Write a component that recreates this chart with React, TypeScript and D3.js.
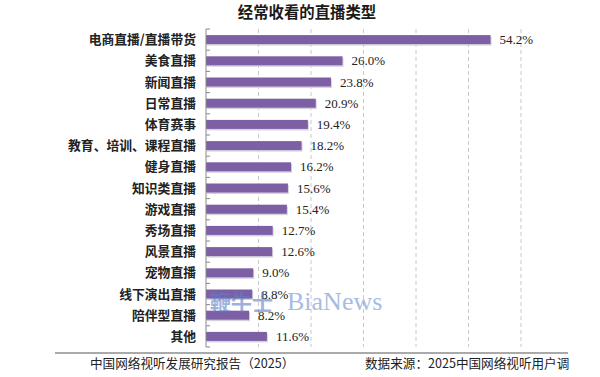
import React from "react";
import * as d3 from "d3";

const categories = [
  "电商直播/直播带货",
  "美食直播",
  "新闻直播",
  "日常直播",
  "体育赛事",
  "教育、培训、课程直播",
  "健身直播",
  "知识类直播",
  "游戏直播",
  "秀场直播",
  "风景直播",
  "宠物直播",
  "线下演出直播",
  "陪伴型直播",
  "其他",
];
const values = [54.2, 26.0, 23.8, 20.9, 19.4, 18.2, 16.2, 15.6, 15.4, 12.7, 12.6, 9.0, 8.8, 8.2, 11.6];
const gridTicks = [10, 20, 30, 40, 50, 60];
const title = "经常收看的直播类型";
const footerLeft = "中国网络视听发展研究报告（2025）";
const footerRight = "数据来源：2025中国网络视听用户调";

const W = 600;
const H = 377;
const sans = "'Noto Sans CJK SC', 'Noto Sans', sans-serif";
const serif = "'Liberation Serif', 'DejaVu Serif', serif";

export default function App() {
  const x = d3.scaleLinear().domain([0, 60]).range([206, 521]);
  const y = d3.scaleBand<string>().domain(categories).range([29, 347]).padding(0);
  const barH = 9;
  const step = y.step();
  const top = y.range()[0];
  const bottom = y.range()[1];

  return (
    <svg
      width={W}
      height={H}
      style={{ position: "absolute", left: 0, top: 0, background: "#fff" }}
    >
      <rect x={0} y={0} width={W} height={H} fill="#fff" />
      <text
        x={307}
        y={18}
        textAnchor="middle"
        fontFamily={sans}
        fontWeight={700}
        fontSize={15.4}
        fill="#1a1a1a"
      >
        {title}
      </text>

      {gridTicks.map((t) => (
        <line
          key={t}
          x1={x(t)}
          x2={x(t)}
          y1={top}
          y2={bottom}
          stroke="#c8c8c8"
          strokeWidth={1}
          strokeDasharray="4,3"
        />
      ))}

      {categories.map((c, i) => {
        const yy = (y(c) as number) + (step - barH) / 2;
        return (
          <g key={c}>
            <rect
              x={x(0) + 1}
              y={yy + 1.5}
              width={x(values[i]) - x(0)}
              height={barH}
              fill="#d6d2dc"
            />
            <rect
              x={x(0)}
              y={yy}
              width={x(values[i]) - x(0)}
              height={barH}
              fill="#7c5fa5"
            />
            <text
              x={x(values[i]) + 9}
              y={yy + barH / 2 + 4.5}
              fontFamily={serif}
              fontSize={13}
              fill="#222"
            >
              {values[i].toFixed(1)}%
            </text>
            <text
              x={196}
              y={yy + barH / 2 + 4.5}
              textAnchor="end"
              fontFamily={sans}
              fontSize={12.8}
              fontWeight={600}
              fill="#222"
            >
              {c}
            </text>
          </g>
        );
      })}

      {/* axis */}
      <line x1={x(0)} x2={x(0)} y1={top} y2={bottom} stroke="#888" strokeWidth={1} />
      {d3.range(categories.length + 1).map((i) => (
        <line
          key={i}
          x1={x(0)}
          x2={x(0) + 4}
          y1={top + i * step}
          y2={top + i * step}
          stroke="#888"
          strokeWidth={1}
        />
      ))}

      {/* watermark */}
      <text x={210} y={310} fontFamily={sans} fontWeight={700} fontSize={21} fill="#5b7fc7" opacity={0.6}>
        鞭牛士
      </text>
      <text
        x={287}
        y={310}
        fontFamily={serif}
        fontSize={26}
        fill="#6f8fcf"
        opacity={0.6}
      >
        BiaNews
      </text>

      {/* footer */}
      <line x1={55} x2={568} y1={353} y2={353} stroke="#aaa" strokeWidth={2} />
      <text x={90} y={368} fontFamily={sans} fontSize={12.6} fill="#222">
        {footerLeft}
      </text>
      <text x={365} y={368} fontFamily={sans} fontSize={12.6} fill="#222">
        {footerRight}
      </text>
    </svg>
  );
}
